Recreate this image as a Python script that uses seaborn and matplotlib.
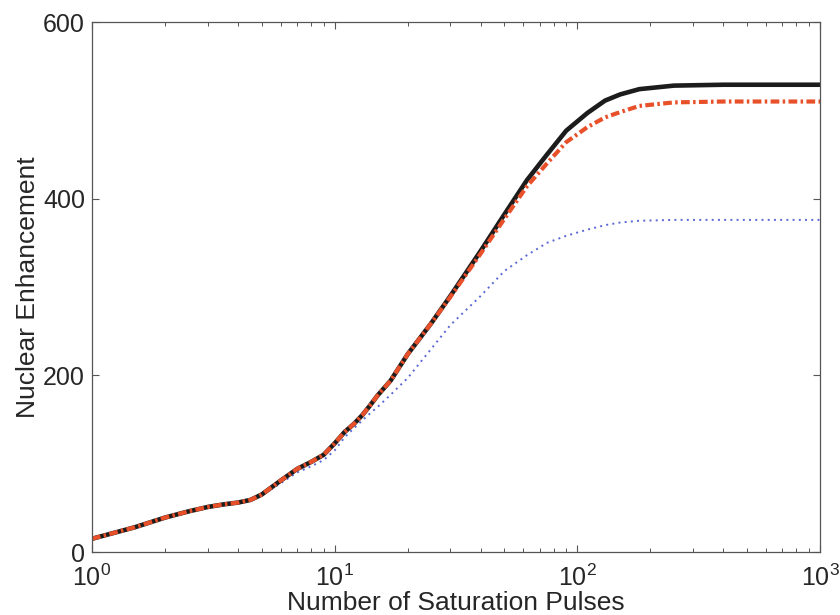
"""
Nuclear enhancement vs number of saturation pulses (log x).
"""

import pandas as pd
import matplotlib
matplotlib.use("Agg")
import matplotlib.pyplot as plt
import matplotlib.ticker as mticker
import seaborn as sns

# values
pulses = [1, 1.5, 2, 2.5, 3, 3.5, 4, 4.5, 5, 6, 7, 8, 9, 10, 11, 12, 13, 14, 15,
          17, 20, 25, 30, 40, 50, 62, 75, 90, 110, 130, 150, 180, 250, 400, 1000]
enh_solid = [15, 28, 39, 46, 51, 54, 56, 59, 65, 81, 94, 102, 110, 123, 136, 145, 155, 166, 177,
             194, 224, 259, 290, 341, 382, 421, 450, 477, 497, 511, 518, 524, 528, 529, 529]
enh_dashdot = [15, 28, 39, 46, 51, 54, 56, 59, 65, 81, 94, 102, 110, 123, 136, 145, 155, 166, 177,
               194, 224, 259, 289, 338, 377, 414, 440, 464, 481, 492, 498, 505, 509, 510, 510]
enh_dotted = [15, 28, 39, 46, 51, 54, 56, 59, 64, 78, 90, 97, 104, 115, 130, 140, 149, 157, 164,
              178, 197, 230, 257, 290, 318, 336, 350, 358, 365, 370, 373, 375, 376, 376, 376]

x_label = "Number of Saturation Pulses"
y_label = "Nuclear Enhancement"

df = pd.DataFrame({"pulses": pulses, "solid": enh_solid,
                   "dashdot": enh_dashdot, "dotted": enh_dotted})

sns.set_style("ticks")
plt.rcParams['font.family'] = ['Liberation Sans', 'DejaVu Sans']
plt.rcParams['mathtext.fontset'] = 'custom'
plt.rcParams['mathtext.rm'] = 'Liberation Sans'
plt.rcParams['mathtext.it'] = 'Liberation Sans'

fig = plt.figure(figsize=(8.4, 6.15), dpi=100)
ax = fig.add_axes([0.1095, 0.1024, 0.8667, 0.8618])

sns.lineplot(data=df, x="pulses", y="dotted", ax=ax, color="#5a68d4", lw=1.4,
             dashes=False, linestyle=(0, (1, 2.2)))
sns.lineplot(data=df, x="pulses", y="solid", ax=ax, color="#1c1c1c", lw=3.3)
sns.lineplot(data=df, x="pulses", y="dashdot", ax=ax, color="#e8502a", lw=3.0,
             linestyle=(0, (2.1, 0.8, 0.6, 0.8)))

ax.set_xscale("log")
ax.set_xlim(1, 1000)
ax.set_ylim(0, 600)
ax.set_yticks([0, 200, 400, 600])
ax.xaxis.set_major_formatter(mticker.LogFormatterMathtext())

for s in ax.spines.values():
    s.set_visible(True)
    s.set_color("#555555")
    s.set_linewidth(0.9)
ax.tick_params(which="both", direction="in", top=True, right=True, color="#555555")
ax.tick_params(which="major", length=5, width=0.8, labelsize=18, pad=5)
ax.tick_params(which="minor", length=3, width=0.7)
ax.tick_params(axis="x", which="major", pad=9)

ax.set_xlabel(x_label, fontsize=19, labelpad=0)
ax.set_ylabel(y_label, fontsize=19, labelpad=2)

fig.savefig("out.png", dpi=100)
plt.close(fig)
